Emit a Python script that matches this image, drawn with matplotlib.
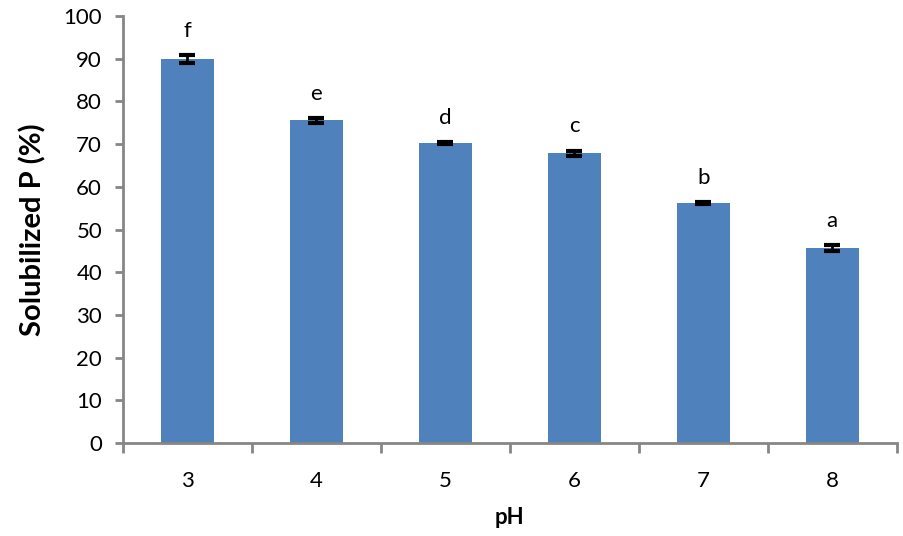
import numpy as np
import matplotlib.pyplot as plt

# pH levels, solubilized P means, error and significance letters
ph = ['3', '4', '5', '6', '7', '8']
solub_p = [90.0, 75.6, 70.3, 67.9, 56.2, 45.6]
err = [0.9, 0.6, 0.3, 0.6, 0.3, 0.7]
letters = ['f', 'e', 'd', 'c', 'b', 'a']

plt.rcParams['font.family'] = ['Lato', 'DejaVu Sans']

fig = plt.figure(figsize=(9.04, 5.36), dpi=100)
ax = fig.add_axes([0.136, 0.1735, 0.856, 0.7965])

x = np.arange(len(ph))
ax.bar(x, solub_p, width=0.41, color='#4F81BD', zorder=2)
ax.errorbar(x, solub_p, yerr=err, fmt='none', ecolor='black',
            elinewidth=2, capsize=6, capthick=3, zorder=3)

for xi, v, e, lab in zip(x, solub_p, err, letters):
    ax.text(xi, v + e + 3.3, lab, ha='center', va='bottom', fontsize=16)

ax.set_xlim(-0.5, len(ph) - 0.5)
ax.set_ylim(0, 100)
ax.set_yticks(np.arange(0, 101, 10))
ax.set_xticks(x)
ax.set_xticklabels(ph)
ax.set_xticks(np.arange(-0.5, len(ph), 1), minor=True)

for s in ['top', 'right']:
    ax.spines[s].set_visible(False)
for s in ['left', 'bottom']:
    ax.spines[s].set_color('#868686')
    ax.spines[s].set_linewidth(2)

ax.tick_params(axis='y', direction='out', length=6, width=2, color='#868686',
               labelsize=16, pad=9)
ax.tick_params(axis='x', which='major', length=0, labelsize=16, pad=20)
ax.tick_params(axis='x', which='minor', direction='out', length=7, width=2,
               color='#868686')

ax.set_xlabel('pH', fontsize=16, fontweight='bold', labelpad=12)
ax.set_ylabel('Solubilized P (%)', fontsize=21, fontweight='bold', labelpad=12)

fig.savefig('out.png', dpi=100)
